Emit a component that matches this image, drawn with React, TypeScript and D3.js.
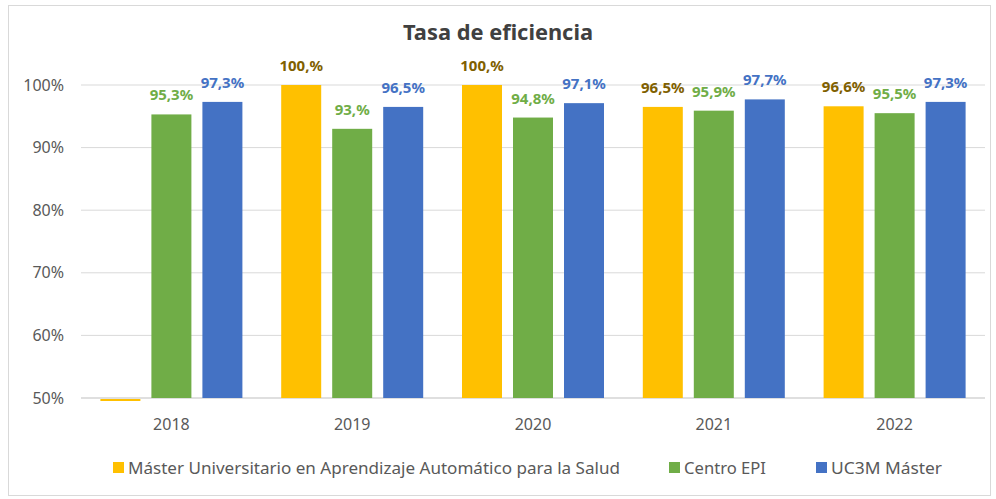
import React from "react";
import * as d3 from "d3";

const categories = ["2018", "2019", "2020", "2021", "2022"];
const seriesNames = ["Máster Universitario en Aprendizaje Automático para la Salud", "Centro EPI", "UC3M Máster"];
const masterValues = [0, 100, 100, 96.5, 96.6];
const epiValues = [95.3, 93, 94.8, 95.9, 95.5];
const uc3mValues = [97.3, 96.5, 97.1, 97.7, 97.3];
const masterLabels = ["", "100,%", "100,%", "96,5%", "96,6%"];
const epiLabels = ["95,3%", "93,%", "94,8%", "95,9%", "95,5%"];
const uc3mLabels = ["97,3%", "96,5%", "97,1%", "97,7%", "97,3%"];
const yTicks = [50, 60, 70, 80, 90, 100];

const colors = ["#FFC000", "#70AD47", "#4472C4"];
const labelColors = ["#7F6000", "#70AD47", "#4472C4"];

export default function App() {
  const W = 996, H = 499;
  const left = 81, right = 985, top = 85, bottom = 398;
  const font = "'Noto Sans', 'Open Sans', sans-serif";
  const x = d3.scaleBand().domain(categories).range([left, right]);
  const y = d3.scaleLinear().domain([50, 100]).range([bottom, top]);
  const series = [masterValues, epiValues, uc3mValues];
  const labels = [masterLabels, epiLabels, uc3mLabels];
  const barW = 40;
  const step = 51;
  const legendX = [113, 669, 816];
  const legendLen = [492, 82, 111];

  return (
    <svg width={W} height={H} style={{ position: "absolute", left: 0, top: 0 }}>
      <rect x={0} y={0} width={W} height={H} fill="#fff" />
      <rect x={8.5} y={5.5} width={982} height={490} fill="none" stroke="#d9d9d9" />
      <text x={498} y={40} textAnchor="middle" fontFamily={font} fontSize={21} fontWeight="bold" fill="#404040" textLength={190} lengthAdjust="spacingAndGlyphs">Tasa de eficiencia</text>
      {yTicks.map((t) => (
        <g key={t}>
          <line x1={left} x2={right} y1={y(t)} y2={y(t)} stroke={t === 50 ? "#bfbfbf" : "#d9d9d9"} strokeWidth={1} />
          <text x={64} y={y(t) + 5.5} textAnchor="end" fontFamily={font} fontSize={16} fill="#595959">{t}%</text>
        </g>
      ))}
      {categories.map((c, i) => {
        const cx = x(c)! + x.bandwidth() / 2;
        return (
          <g key={c}>
            {series.map((s, j) => {
              const v = s[i];
              const bx = cx + (j - 1) * step - barW / 2;
              if (v < 50) {
                return <rect key={j} x={bx} y={bottom + 1} width={barW} height={2} fill={colors[j]} />;
              }
              return (
                <g key={j}>
                  <rect x={bx} y={y(v)} width={barW} height={bottom - y(v)} fill={colors[j]} />
                  <text x={bx + barW / 2} y={y(v) - 14} textAnchor="middle" fontFamily={font} fontSize={15} fontWeight="bold" fill={labelColors[j]}>{labels[j][i]}</text>
                </g>
              );
            })}
            <text x={cx} y={430} textAnchor="middle" fontFamily={font} fontSize={16} fill="#595959">{c}</text>
          </g>
        );
      })}
      {seriesNames.map((n, j) => (
        <g key={n}>
          <rect x={legendX[j]} y={462} width={11} height={11} fill={colors[j]} />
          <text x={legendX[j] + 15} y={474} fontFamily={font} fontSize={16.5} fill="#595959" textLength={legendLen[j]} lengthAdjust="spacingAndGlyphs">{n}</text>
        </g>
      ))}
    </svg>
  );
}
